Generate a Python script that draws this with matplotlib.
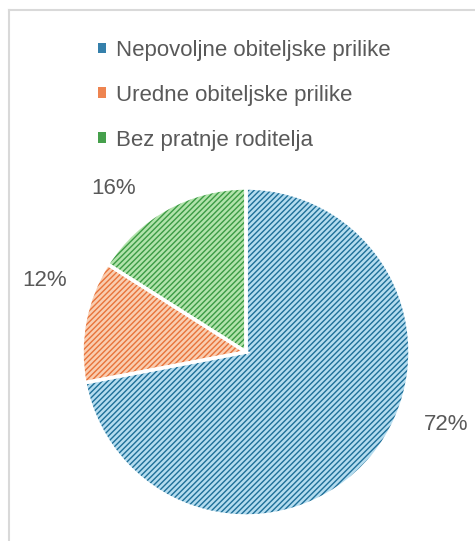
import matplotlib.pyplot as plt
from matplotlib.lines import Line2D
from matplotlib.patches import Patch

categories = ["Nepovoljne obiteljske prilike", "Uredne obiteljske prilike", "Bez pratnje roditelja"]
shares = [72, 12, 16]
labels = ["72%", "12%", "16%"]

fills = ["#b4dcef", "#f9cdb0", "#b2e3ab"]
hatch_colors = ["#1e6f98", "#e8733a", "#3b9b44"]
marker_colors = ["#3580ab", "#ee8450", "#46a04c"]
label_pos = [(1.222, -0.44), (-1.229, 0.433), (-0.805, 1.0)]

plt.rcParams["font.family"] = ["Liberation Sans", "DejaVu Sans"]
plt.rcParams["hatch.linewidth"] = 1.0

W, H = 475, 541
fig = plt.figure(figsize=(W / 100, H / 100), dpi=100)

cx, cy, r = 246, 541 - 352, 164
ax = fig.add_axes([(cx - r) / W, (cy - r) / H, 2 * r / W, 2 * r / H])

# hatched fill layer
wedges, _ = ax.pie(shares, startangle=90, counterclock=False, colors=fills,
                   wedgeprops=dict(linewidth=0, hatch="//////"))
for w, hc in zip(wedges, hatch_colors):
    w.set_edgecolor(hc)
    w.set_linewidth(0)

# white separators
ax.pie(shares, startangle=90, counterclock=False,
       wedgeprops=dict(facecolor="none", edgecolor="white", linewidth=2.5))

for txt, (x, y) in zip(labels, label_pos):
    ax.text(x, y, txt, ha="center", va="center", fontsize=16, color="#595959")

ax.set_xlim(-1, 1)
ax.set_ylim(-1, 1)
ax.set_aspect("equal")

handles = [Patch(facecolor=c, linewidth=0) for c in marker_colors]
fig.legend(handles, categories, loc="upper left", bbox_to_anchor=(78 / W, 1 - 20 / H),
           frameon=False, fontsize=16, labelcolor="#595959",
           handlelength=0.36, handleheight=0.36, handletextpad=0.45, labelspacing=1.07)

# chart area border (top and left edges visible)
fig.add_artist(Line2D([9 / W, 1], [1 - 10 / H, 1 - 10 / H], color="#d9d9d9", lw=1.5))
fig.add_artist(Line2D([9 / W, 9 / W], [0, 1 - 10 / H], color="#d9d9d9", lw=1.5))

fig.savefig("out.png", dpi=100, facecolor="white")
